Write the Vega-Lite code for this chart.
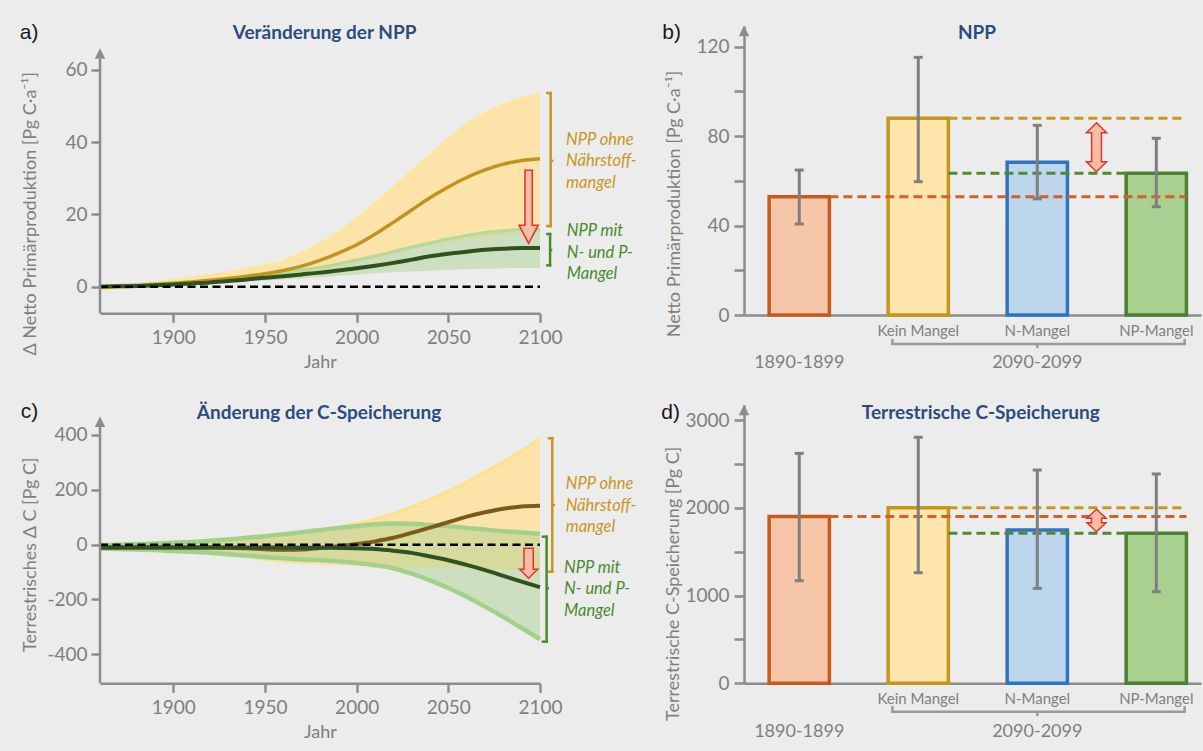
{
"$schema": "https://vega.github.io/schema/vega-lite/v6.json",
"background": "#ececec",
"padding": {"left": 19, "top": 21, "right": 10, "bottom": 15},
"columns": 2,
"spacing": {"row": 90, "column": 204},
"bounds": "flush",
"datasets": {
"npp": [
{"Jahr":1860,"ohne_lo":-1.2,"ohne_hi":0,"ohne":0,"mit_lo":-0.3,"mit_hi":0.2,"mit":0},
{"Jahr":1870,"ohne_lo":-0.8,"ohne_hi":0.3,"ohne":0.1,"mit_lo":-0.2,"mit_hi":0.4,"mit":0.1},
{"Jahr":1880,"ohne_lo":-0.3,"ohne_hi":0.7,"ohne":0.3,"mit_lo":0,"mit_hi":0.6,"mit":0.2},
{"Jahr":1890,"ohne_lo":0.1,"ohne_hi":1.2,"ohne":0.6,"mit_lo":0.2,"mit_hi":0.85,"mit":0.4},
{"Jahr":1900,"ohne_lo":0.4,"ohne_hi":1.8,"ohne":0.9,"mit_lo":0.4,"mit_hi":1.1,"mit":0.6},
{"Jahr":1910,"ohne_lo":0.7,"ohne_hi":2.4,"ohne":1.3,"mit_lo":0.6,"mit_hi":1.4,"mit":0.9},
{"Jahr":1920,"ohne_lo":1.0,"ohne_hi":3.1,"ohne":1.8,"mit_lo":0.8,"mit_hi":1.7,"mit":1.2},
{"Jahr":1930,"ohne_lo":1.4,"ohne_hi":3.9,"ohne":2.3,"mit_lo":1.1,"mit_hi":2.1,"mit":1.6},
{"Jahr":1940,"ohne_lo":1.8,"ohne_hi":4.8,"ohne":2.9,"mit_lo":1.4,"mit_hi":2.6,"mit":2.0},
{"Jahr":1950,"ohne_lo":2.3,"ohne_hi":5.8,"ohne":3.6,"mit_lo":1.7,"mit_hi":3.2,"mit":2.5},
{"Jahr":1960,"ohne_lo":2.9,"ohne_hi":7.0,"ohne":4.5,"mit_lo":2.0,"mit_hi":4.0,"mit":2.9},
{"Jahr":1970,"ohne_lo":3.6,"ohne_hi":9.2,"ohne":5.7,"mit_lo":2.3,"mit_hi":4.7,"mit":3.4},
{"Jahr":1980,"ohne_lo":4.5,"ohne_hi":11.8,"ohne":7.3,"mit_lo":2.6,"mit_hi":5.3,"mit":3.9},
{"Jahr":1990,"ohne_lo":5.5,"ohne_hi":15.0,"ohne":9.3,"mit_lo":3.0,"mit_hi":6.3,"mit":4.5},
{"Jahr":2000,"ohne_lo":6.6,"ohne_hi":18.6,"ohne":11.6,"mit_lo":3.3,"mit_hi":7.4,"mit":5.1},
{"Jahr":2010,"ohne_lo":7.8,"ohne_hi":22.8,"ohne":14.5,"mit_lo":3.7,"mit_hi":8.5,"mit":5.8},
{"Jahr":2020,"ohne_lo":9.0,"ohne_hi":27.3,"ohne":17.8,"mit_lo":4.0,"mit_hi":9.7,"mit":6.6},
{"Jahr":2030,"ohne_lo":10.2,"ohne_hi":31.8,"ohne":21.2,"mit_lo":4.2,"mit_hi":11.0,"mit":7.5},
{"Jahr":2040,"ohne_lo":11.3,"ohne_hi":36.3,"ohne":24.6,"mit_lo":4.4,"mit_hi":12.1,"mit":8.4},
{"Jahr":2050,"ohne_lo":12.3,"ohne_hi":40.8,"ohne":27.6,"mit_lo":4.6,"mit_hi":13.2,"mit":9.1},
{"Jahr":2060,"ohne_lo":13.1,"ohne_hi":44.7,"ohne":30.2,"mit_lo":4.8,"mit_hi":14.2,"mit":9.7},
{"Jahr":2070,"ohne_lo":13.8,"ohne_hi":47.8,"ohne":32.3,"mit_lo":5.0,"mit_hi":15.0,"mit":10.2},
{"Jahr":2080,"ohne_lo":14.4,"ohne_hi":50.2,"ohne":33.9,"mit_lo":5.1,"mit_hi":15.5,"mit":10.5},
{"Jahr":2090,"ohne_lo":14.8,"ohne_hi":51.9,"ohne":34.9,"mit_lo":5.2,"mit_hi":15.8,"mit":10.7},
{"Jahr":2100,"ohne_lo":15.0,"ohne_hi":53.0,"ohne":35.4,"mit_lo":5.2,"mit_hi":15.8,"mit":10.7}
],
"cspeicher": [
{"Jahr":1860,"ohne_lo":-14,"ohne_hi":-2,"ohne":-10,"mit_lo":-14,"mit_hi":-2,"mit":-10},
{"Jahr":1870,"ohne_lo":-15,"ohne_hi":-1,"ohne":-10,"mit_lo":-16,"mit_hi":0,"mit":-10},
{"Jahr":1880,"ohne_lo":-17,"ohne_hi":0,"ohne":-10,"mit_lo":-18,"mit_hi":2,"mit":-10},
{"Jahr":1890,"ohne_lo":-19,"ohne_hi":2,"ohne":-10,"mit_lo":-20,"mit_hi":4,"mit":-10},
{"Jahr":1900,"ohne_lo":-22,"ohne_hi":4,"ohne":-10,"mit_lo":-23,"mit_hi":7,"mit":-10},
{"Jahr":1910,"ohne_lo":-26,"ohne_hi":7,"ohne":-10,"mit_lo":-26,"mit_hi":10,"mit":-10},
{"Jahr":1920,"ohne_lo":-31,"ohne_hi":11,"ohne":-10,"mit_lo":-30,"mit_hi":14,"mit":-10},
{"Jahr":1930,"ohne_lo":-37,"ohne_hi":16,"ohne":-11,"mit_lo":-35,"mit_hi":19,"mit":-10},
{"Jahr":1940,"ohne_lo":-45,"ohne_hi":22,"ohne":-13,"mit_lo":-40,"mit_hi":25,"mit":-10},
{"Jahr":1950,"ohne_lo":-55,"ohne_hi":30,"ohne":-17,"mit_lo":-45,"mit_hi":31,"mit":-10},
{"Jahr":1960,"ohne_lo":-62,"ohne_hi":37,"ohne":-19,"mit_lo":-50,"mit_hi":38,"mit":-10},
{"Jahr":1970,"ohne_lo":-66,"ohne_hi":45,"ohne":-18,"mit_lo":-54,"mit_hi":45,"mit":-11},
{"Jahr":1980,"ohne_lo":-69,"ohne_hi":54,"ohne":-12,"mit_lo":-57,"mit_hi":53,"mit":-11},
{"Jahr":1990,"ohne_lo":-71,"ohne_hi":64,"ohne":-6,"mit_lo":-61,"mit_hi":61,"mit":-12},
{"Jahr":2000,"ohne_lo":-73,"ohne_hi":77,"ohne":2,"mit_lo":-67,"mit_hi":68,"mit":-13},
{"Jahr":2010,"ohne_lo":-75,"ohne_hi":93,"ohne":12,"mit_lo":-75,"mit_hi":74,"mit":-16},
{"Jahr":2020,"ohne_lo":-76,"ohne_hi":113,"ohne":25,"mit_lo":-86,"mit_hi":77,"mit":-22},
{"Jahr":2030,"ohne_lo":-77,"ohne_hi":138,"ohne":43,"mit_lo":-106,"mit_hi":76,"mit":-30},
{"Jahr":2040,"ohne_lo":-78,"ohne_hi":165,"ohne":62,"mit_lo":-130,"mit_hi":72,"mit":-43},
{"Jahr":2050,"ohne_lo":-79,"ohne_hi":195,"ohne":82,"mit_lo":-158,"mit_hi":67,"mit":-57},
{"Jahr":2060,"ohne_lo":-81,"ohne_hi":228,"ohne":102,"mit_lo":-190,"mit_hi":61,"mit":-74},
{"Jahr":2070,"ohne_lo":-83,"ohne_hi":265,"ohne":118,"mit_lo":-226,"mit_hi":55,"mit":-93},
{"Jahr":2080,"ohne_lo":-86,"ohne_hi":302,"ohne":131,"mit_lo":-264,"mit_hi":49,"mit":-114},
{"Jahr":2090,"ohne_lo":-89,"ohne_hi":342,"ohne":139,"mit_lo":-304,"mit_hi":44,"mit":-135},
{"Jahr":2100,"ohne_lo":-92,"ohne_hi":385,"ohne":142,"mit_lo":-345,"mit_hi":40,"mit":-155}
],
"balken": [
{"Kategorie":"1890-1899","npp":52.9,"npp_lo":40.7,"npp_hi":64.8,"c":1900,"c_lo":1169,"c_hi":2620},
{"Kategorie":"Kein Mangel","npp":88,"npp_lo":59.6,"npp_hi":115.2,"c":2001,"c_lo":1260,"c_hi":2803},
{"Kategorie":"N-Mangel","npp":68.3,"npp_lo":51.9,"npp_hi":84.8,"c":1747,"c_lo":1082,"c_hi":2430},
{"Kategorie":"NP-Mangel","npp":63.4,"npp_lo":48.4,"npp_hi":79,"c":1709,"c_lo":1044,"c_hi":2385}
]
},
"concat": [
{
"width": 440, "height": 287.3,
"data": {"name": "npp"},
"layer": [
{"mark": {"type": "area", "color": "#fbe3aa", "interpolate": "monotone"}, "encoding": {"x": {"field": "Jahr", "type": "quantitative", "scale": {"domain": [1860, 2100], "nice": false, "zero": false}, "axis": {"title": "Jahr", "values": [1900,1950,2000,2050,2100], "labelExpr": "'' + datum.value", "tickSize": 9, "labelPadding": 6, "titlePadding": 6}}, "y": {"field": "ohne_lo", "type": "quantitative", "scale": {"domain": [-7.35, 72.1], "nice": false, "zero": false}, "axis": {"title": "Δ Netto Primärproduktion [Pg C·a⁻¹]", "values": [0,20,40,60], "domain": false, "tickSize": 9, "labelPadding": 4, "titleX": -70, "titleY": 187.3, "titleBaseline": "middle", "titleAngle": 270}}, "y2": {"field": "ohne_hi"}}},
{"mark": {"type": "line", "color": "#fde699", "strokeWidth": 3, "interpolate": "monotone"}, "encoding": {"x": {"field": "Jahr", "type": "quantitative"}, "y": {"field": "ohne_hi", "type": "quantitative"}}},
{"mark": {"type": "area", "color": "#a9d18e", "opacity": 0.45, "interpolate": "monotone"}, "encoding": {"x": {"field": "Jahr", "type": "quantitative"}, "y": {"field": "mit_lo", "type": "quantitative"}, "y2": {"field": "mit_hi"}}},
{"mark": {"type": "line", "color": "#b3d99b", "strokeWidth": 3, "interpolate": "monotone"}, "encoding": {"x": {"field": "Jahr", "type": "quantitative"}, "y": {"field": "mit_hi", "type": "quantitative"}}},
{"mark": {"type": "line", "color": "#c0951f", "strokeWidth": 3.5, "interpolate": "monotone"}, "encoding": {"x": {"field": "Jahr", "type": "quantitative"}, "y": {"field": "ohne", "type": "quantitative"}}},
{"mark": {"type": "line", "color": "#2f5220", "strokeWidth": 4, "interpolate": "monotone"}, "encoding": {"x": {"field": "Jahr", "type": "quantitative"}, "y": {"field": "mit", "type": "quantitative"}}},
{"data": {"values": [{}]}, "mark": {"type": "rule", "color": "#000000", "strokeWidth": 2.5, "strokeDash": [8, 4.5]}, "encoding": {"x": {"datum": 1860}, "x2": {"datum": 2100}, "y": {"datum": 0}}},
{"data": {"values": [{}]}, "mark": {"type": "point", "shape": "M-0.1,-1L0.1,-1L0.1,0.5L0.264,0.5L0,1L-0.264,0.5L-0.1,0.5Z", "size": 5373, "filled": true, "fill": "#f7bca6", "stroke": "#e3342a", "strokeWidth": 1.5, "opacity": 1}, "encoding": {"x": {"datum": 2093.8}, "y": {"datum": 22.1}}},
{"data": {"values": [{}]}, "mark": {"type": "rule", "color": "#8c8c8c", "strokeWidth": 2.5}, "encoding": {"x": {"datum": 1860}, "y": {"datum": -7.35}, "y2": {"datum": 63}}},
{"data": {"values": [{}]}, "mark": {"type": "point", "shape": "M0,-1L1,1L-1,1Z", "size": 110, "filled": true, "color": "#8c8c8c", "opacity": 1}, "encoding": {"x": {"datum": 1860}, "y": {"datum": 64.5}}},
{"data": {"values": [{}]}, "mark": {"type": "rule", "color": "#c8961e", "strokeWidth": 2.5, "strokeCap": "square"}, "encoding": {"x": {"datum": 2105.8}, "y": {"datum": 16.78}, "y2": {"datum": 53.55}}},
{"data": {"values": [{}]}, "mark": {"type": "rule", "color": "#c8961e", "strokeWidth": 2.5, "strokeCap": "square"}, "encoding": {"x": {"datum": 2104}, "x2": {"datum": 2105.8}, "y": {"datum": 53.55}}},
{"data": {"values": [{}]}, "mark": {"type": "rule", "color": "#c8961e", "strokeWidth": 2.5, "strokeCap": "square"}, "encoding": {"x": {"datum": 2104}, "x2": {"datum": 2105.8}, "y": {"datum": 16.78}}},
{"data": {"values": [{}]}, "mark": {"type": "rule", "color": "#c8961e", "strokeWidth": 2.5}, "encoding": {"x": {"datum": 2105.8}, "x2": {"datum": 2107.3}, "y": {"datum": 34.8}}},
{"data": {"values": [{}]}, "mark": {"type": "rule", "color": "#4a8a2e", "strokeWidth": 2.5, "strokeCap": "square"}, "encoding": {"x": {"datum": 2105.5}, "y": {"datum": 5.92}, "y2": {"datum": 14.57}}},
{"data": {"values": [{}]}, "mark": {"type": "rule", "color": "#4a8a2e", "strokeWidth": 2.5, "strokeCap": "square"}, "encoding": {"x": {"datum": 2104}, "x2": {"datum": 2105.5}, "y": {"datum": 14.57}}},
{"data": {"values": [{}]}, "mark": {"type": "rule", "color": "#4a8a2e", "strokeWidth": 2.5, "strokeCap": "square"}, "encoding": {"x": {"datum": 2104}, "x2": {"datum": 2105.5}, "y": {"datum": 5.92}}},
{"data": {"values": [{}]}, "mark": {"type": "rule", "color": "#4a8a2e", "strokeWidth": 2.5}, "encoding": {"x": {"datum": 2105.5}, "x2": {"datum": 2106.7}, "y": {"datum": 10.15}}},
{"data": {"values": [{"t": "NPP ohne\nNährstoff-\nmangel"}]}, "mark": {"type": "text", "align": "left", "baseline": "top", "fontStyle": "italic", "fontSize": 16.5, "lineHeight": 21.5, "lineBreak": "\n", "color": "#c8961e"}, "encoding": {"x": {"datum": 2114.2}, "y": {"datum": 42.9}, "text": {"field": "t"}}},
{"data": {"values": [{"t": "NPP mit\nN- und P-\nMangel"}]}, "mark": {"type": "text", "align": "left", "baseline": "top", "fontStyle": "italic", "fontSize": 16.5, "lineHeight": 21.5, "lineBreak": "\n", "color": "#4a8a2e"}, "encoding": {"x": {"datum": 2114.6}, "y": {"datum": 17.6}, "text": {"field": "t"}}},
{"data": {"values": [{"t": "Veränderung der NPP"}]}, "mark": {"type": "text", "fontSize": 19, "fontWeight": "bold", "color": "#2c4c7e", "align": "center", "baseline": "middle"}, "encoding": {"x": {"datum": 1982.5}, "y": {"datum": 70.1}, "text": {"field": "t"}}},
{"data": {"values": [{"t": "a)"}]}, "mark": {"type": "text", "font": "Liberation Sans", "fontSize": 21, "color": "#1a1a1a", "align": "center", "baseline": "middle"}, "encoding": {"x": {"datum": 1821.3}, "y": {"datum": 70.1}, "text": {"field": "t"}}}
]
},
{
"width": 457, "height": 289,
"data": {"name": "balken"},
"layer": [
{"mark": {"type": "bar", "strokeWidth": 3.5}, "encoding": {"x": {"field": "Kategorie", "type": "nominal", "scale": {"domain": ["1890-1899","Kein Mangel","N-Mangel","NP-Mangel"], "paddingInner": 0.4937, "paddingOuter": 0.1667, "align": 0.633}, "axis": {"title": null, "ticks": false, "labelAngle": 0, "labelFontSize": 15, "labelPadding": 8, "labelExpr": "datum.value == '1890-1899' ? '' : datum.label"}}, "y": {"field": "npp", "type": "quantitative", "scale": {"domain": [0, 129.2], "nice": false}, "axis": {"title": "Netto Primärproduktion [Pg C·a⁻¹]", "values": [0,20,40,60,80,100,120], "labelExpr": "datum.value % 40 == 0 ? datum.label : ''", "tickSize": 10, "labelPadding": 5, "titleX": -70, "titleY": 177.5, "titleBaseline": "middle", "titleAngle": 270}}, "fill": {"field": "Kategorie", "type": "nominal", "scale": {"domain": ["1890-1899","Kein Mangel","N-Mangel","NP-Mangel"], "range": ["#f6c6a8","#fde5ab","#bdd6ee","#a9d08e"]}, "legend": null}, "stroke": {"field": "Kategorie", "type": "nominal", "scale": {"domain": ["1890-1899","Kein Mangel","N-Mangel","NP-Mangel"], "range": ["#c65a1e","#c3961f","#2f74c0","#4e8034"]}, "legend": null}}},
{"transform": [{"filter": "datum.Kategorie == '1890-1899'"}], "mark": {"type": "rule", "color": "#d2602a", "strokeWidth": 3, "strokeDash": [9, 5]}, "encoding": {"x": {"datum": "1890-1899", "bandPosition": 1}, "x2": {"datum": "NP-Mangel", "bandPosition": 1}, "y": {"field": "npp", "type": "quantitative"}}},
{"transform": [{"filter": "datum.Kategorie == 'Kein Mangel'"}], "mark": {"type": "rule", "color": "#c8981e", "strokeWidth": 3, "strokeDash": [9, 5]}, "encoding": {"x": {"datum": "Kein Mangel", "bandPosition": 1}, "x2": {"datum": "NP-Mangel", "bandPosition": 1}, "y": {"field": "npp", "type": "quantitative"}}},
{"transform": [{"filter": "datum.Kategorie == 'NP-Mangel'"}], "mark": {"type": "rule", "color": "#4f8a2f", "strokeWidth": 3, "strokeDash": [9, 5]}, "encoding": {"x": {"datum": "Kein Mangel", "bandPosition": 1}, "x2": {"datum": "NP-Mangel", "bandPosition": 0}, "y": {"field": "npp", "type": "quantitative"}}},
{"mark": {"type": "rule", "color": "#7f7f7f", "strokeWidth": 3}, "encoding": {"x": {"field": "Kategorie", "type": "nominal"}, "y": {"field": "npp_lo", "type": "quantitative"}, "y2": {"field": "npp_hi"}}},
{"mark": {"type": "tick", "color": "#7f7f7f", "thickness": 3, "size": 9, "orient": "horizontal", "opacity": 1}, "encoding": {"x": {"field": "Kategorie", "type": "nominal"}, "y": {"field": "npp_lo", "type": "quantitative"}}},
{"mark": {"type": "tick", "color": "#7f7f7f", "thickness": 3, "size": 9, "orient": "horizontal", "opacity": 1}, "encoding": {"x": {"field": "Kategorie", "type": "nominal"}, "y": {"field": "npp_hi", "type": "quantitative"}}},
{"data": {"values": [{}]}, "mark": {"type": "point", "shape": "M0,-1L0.41,-0.59L0.2,-0.59L0.2,0.59L0.41,0.59L0,1L-0.41,0.59L-0.2,0.59L-0.2,-0.59L-0.41,-0.59Z", "size": 2401, "filled": true, "fill": "#f7bca6", "stroke": "#e3342a", "strokeWidth": 1.5, "opacity": 1}, "encoding": {"x": {"datum": "N-Mangel", "bandPosition": 1.483}, "y": {"datum": 75}}},
{"data": {"values": [{}]}, "mark": {"type": "point", "shape": "M0,-1L1,1L-1,1Z", "size": 110, "filled": true, "color": "#8c8c8c", "opacity": 1}, "encoding": {"x": {"datum": "1890-1899", "bandPosition": -0.417}, "y": {"datum": 127}}},
{"data": {"values": [{}]}, "mark": {"type": "rule", "color": "#9a9a9a", "strokeWidth": 2.5, "strokeCap": "square"}, "encoding": {"x": {"datum": "Kein Mangel", "bandPosition": 0.07}, "x2": {"datum": "NP-Mangel", "bandPosition": 0.97}, "y": {"datum": -13}}},
{"data": {"values": [{}]}, "mark": {"type": "rule", "color": "#9a9a9a", "strokeWidth": 2.5}, "encoding": {"x": {"datum": "Kein Mangel", "bandPosition": 0.07}, "y": {"datum": -13}, "y2": {"datum": -10.7}}},
{"data": {"values": [{}]}, "mark": {"type": "rule", "color": "#9a9a9a", "strokeWidth": 2.5}, "encoding": {"x": {"datum": "NP-Mangel", "bandPosition": 0.97}, "y": {"datum": -13}, "y2": {"datum": -10.7}}},
{"data": {"values": [{}]}, "mark": {"type": "rule", "color": "#9a9a9a", "strokeWidth": 2.5}, "encoding": {"x": {"datum": "N-Mangel"}, "y": {"datum": -13}, "y2": {"datum": -14.8}}},
{"data": {"values": [{"t": "1890-1899"}]}, "mark": {"type": "text", "fontSize": 18, "color": "#7f7f7f", "baseline": "middle", "dy": 47.7}, "encoding": {"x": {"datum": "1890-1899"}, "y": {"datum": 0}, "text": {"field": "t"}}},
{"data": {"values": [{"t": "2090-2099"}]}, "mark": {"type": "text", "fontSize": 18, "color": "#7f7f7f", "baseline": "middle", "dy": 47.7}, "encoding": {"x": {"datum": "N-Mangel"}, "y": {"datum": 0}, "text": {"field": "t"}}},
{"data": {"values": [{"t": "NPP"}]}, "mark": {"type": "text", "fontSize": 19, "fontWeight": "bold", "color": "#2c4c7e", "align": "center", "baseline": "middle"}, "encoding": {"x": {"datum": "N-Mangel", "bandPosition": -0.5}, "y": {"datum": 126.1}, "text": {"field": "t"}}},
{"data": {"values": [{"t": "b)"}]}, "mark": {"type": "text", "font": "Liberation Sans", "fontSize": 21, "color": "#1a1a1a", "align": "center", "baseline": "middle"}, "encoding": {"x": {"datum": "1890-1899", "bandPosition": -1.617}, "y": {"datum": 126.1}, "text": {"field": "t"}}}
]
},
{
"width": 440, "height": 278.3,
"data": {"name": "cspeicher"},
"layer": [
{"mark": {"type": "area", "color": "#fbe3aa", "interpolate": "monotone"}, "encoding": {"x": {"field": "Jahr", "type": "quantitative", "scale": {"domain": [1860, 2100], "nice": false, "zero": false}, "axis": {"title": "Jahr", "values": [1900,1950,2000,2050,2100], "labelExpr": "'' + datum.value", "tickSize": 9, "labelPadding": 6, "titlePadding": 6}}, "y": {"field": "ohne_lo", "type": "quantitative", "scale": {"domain": [-505.8, 509.4], "nice": false, "zero": false}, "axis": {"title": "Terrestrisches Δ C [Pg C]", "values": [-400,-200,0,200,400], "labelExpr": "'' + datum.value", "domain": false, "tickSize": 9, "labelPadding": 4, "titleX": -70, "titleY": 149.2, "titleBaseline": "middle", "titleAngle": 270}}, "y2": {"field": "ohne_hi"}}},
{"mark": {"type": "line", "color": "#fde28a", "strokeWidth": 3, "interpolate": "monotone"}, "encoding": {"x": {"field": "Jahr", "type": "quantitative"}, "y": {"field": "ohne_hi", "type": "quantitative"}}},
{"mark": {"type": "line", "color": "#f9e3a3", "strokeWidth": 2.5, "interpolate": "monotone"}, "encoding": {"x": {"field": "Jahr", "type": "quantitative"}, "y": {"field": "ohne_lo", "type": "quantitative"}}},
{"mark": {"type": "area", "color": "#a9d18e", "opacity": 0.45, "interpolate": "monotone"}, "encoding": {"x": {"field": "Jahr", "type": "quantitative"}, "y": {"field": "mit_lo", "type": "quantitative"}, "y2": {"field": "mit_hi"}}},
{"mark": {"type": "line", "color": "#a5d08a", "strokeWidth": 4.5, "interpolate": "monotone"}, "encoding": {"x": {"field": "Jahr", "type": "quantitative"}, "y": {"field": "mit_hi", "type": "quantitative"}}},
{"mark": {"type": "line", "color": "#a5d08a", "strokeWidth": 4.5, "interpolate": "monotone"}, "encoding": {"x": {"field": "Jahr", "type": "quantitative"}, "y": {"field": "mit_lo", "type": "quantitative"}}},
{"mark": {"type": "line", "color": "#7b5a1c", "strokeWidth": 4, "interpolate": "monotone"}, "encoding": {"x": {"field": "Jahr", "type": "quantitative"}, "y": {"field": "ohne", "type": "quantitative"}}},
{"mark": {"type": "line", "color": "#2f5220", "strokeWidth": 4, "interpolate": "monotone"}, "encoding": {"x": {"field": "Jahr", "type": "quantitative"}, "y": {"field": "mit", "type": "quantitative"}}},
{"data": {"values": [{}]}, "mark": {"type": "rule", "color": "#000000", "strokeWidth": 2.5, "strokeDash": [8, 4.5]}, "encoding": {"x": {"datum": 1860}, "x2": {"datum": 2100}, "y": {"datum": 0}}},
{"data": {"values": [{}]}, "mark": {"type": "point", "shape": "M-0.31,-1L0.31,-1L0.31,0.4L0.6,0.4L0,1L-0.6,0.4L-0.31,0.4Z", "size": 900, "filled": true, "fill": "#f7bca6", "stroke": "#e3342a", "strokeWidth": 1.5, "opacity": 1}, "encoding": {"x": {"datum": 2093.8}, "y": {"datum": -68}}},
{"data": {"values": [{}]}, "mark": {"type": "rule", "color": "#8c8c8c", "strokeWidth": 2.5}, "encoding": {"x": {"datum": 1860}, "y": {"datum": -505.8}, "y2": {"datum": 430}}},
{"data": {"values": [{}]}, "mark": {"type": "point", "shape": "M0,-1L1,1L-1,1Z", "size": 110, "filled": true, "color": "#8c8c8c", "opacity": 1}, "encoding": {"x": {"datum": 1860}, "y": {"datum": 448.5}}},
{"data": {"values": [{}]}, "mark": {"type": "rule", "color": "#c8961e", "strokeWidth": 2.5, "strokeCap": "square"}, "encoding": {"x": {"datum": 2106.7}, "y": {"datum": -98.7}, "y2": {"datum": 388}}},
{"data": {"values": [{}]}, "mark": {"type": "rule", "color": "#c8961e", "strokeWidth": 2.5, "strokeCap": "square"}, "encoding": {"x": {"datum": 2104.9}, "x2": {"datum": 2106.7}, "y": {"datum": 388}}},
{"data": {"values": [{}]}, "mark": {"type": "rule", "color": "#c8961e", "strokeWidth": 2.5, "strokeCap": "square"}, "encoding": {"x": {"datum": 2104.9}, "x2": {"datum": 2106.7}, "y": {"datum": -98.7}}},
{"data": {"values": [{}]}, "mark": {"type": "rule", "color": "#c8961e", "strokeWidth": 2.5}, "encoding": {"x": {"datum": 2106.7}, "x2": {"datum": 2108.2}, "y": {"datum": 144.6}}},
{"data": {"values": [{}]}, "mark": {"type": "rule", "color": "#4a8a2e", "strokeWidth": 2.5, "strokeCap": "square"}, "encoding": {"x": {"datum": 2103.6}, "y": {"datum": -354}, "y2": {"datum": 29}}},
{"data": {"values": [{}]}, "mark": {"type": "rule", "color": "#4a8a2e", "strokeWidth": 2.5, "strokeCap": "square"}, "encoding": {"x": {"datum": 2101.6}, "x2": {"datum": 2103.6}, "y": {"datum": 29}}},
{"data": {"values": [{}]}, "mark": {"type": "rule", "color": "#4a8a2e", "strokeWidth": 2.5, "strokeCap": "square"}, "encoding": {"x": {"datum": 2101.6}, "x2": {"datum": 2103.6}, "y": {"datum": -354}}},
{"data": {"values": [{}]}, "mark": {"type": "rule", "color": "#4a8a2e", "strokeWidth": 2.5}, "encoding": {"x": {"datum": 2103.6}, "x2": {"datum": 2104.9}, "y": {"datum": -159}}},
{"data": {"values": [{"t": "NPP ohne\nNährstoff-\nmangel"}]}, "mark": {"type": "text", "align": "left", "baseline": "top", "fontStyle": "italic", "fontSize": 16.5, "lineHeight": 21.5, "lineBreak": "\n", "color": "#c8961e"}, "encoding": {"x": {"datum": 2114}, "y": {"datum": 249}, "text": {"field": "t"}}},
{"data": {"values": [{"t": "NPP mit\nN- und P-\nMangel"}]}, "mark": {"type": "text", "align": "left", "baseline": "top", "fontStyle": "italic", "fontSize": 16.5, "lineHeight": 21.5, "lineBreak": "\n", "color": "#4a8a2e"}, "encoding": {"x": {"datum": 2113.1}, "y": {"datum": -55.3}, "text": {"field": "t"}}},
{"data": {"values": [{"t": "Änderung der C-Speicherung"}]}, "mark": {"type": "text", "fontSize": 19, "fontWeight": "bold", "color": "#2c4c7e", "align": "center", "baseline": "middle"}, "encoding": {"x": {"datum": 1979.5}, "y": {"datum": 480}, "text": {"field": "t"}}},
{"data": {"values": [{"t": "c)"}]}, "mark": {"type": "text", "font": "Liberation Sans", "fontSize": 21, "color": "#1a1a1a", "align": "center", "baseline": "middle"}, "encoding": {"x": {"datum": 1821.5}, "y": {"datum": 485}, "text": {"field": "t"}}}
]
},
{
"width": 457, "height": 278.3,
"data": {"name": "balken"},
"layer": [
{"mark": {"type": "bar", "strokeWidth": 3.5}, "encoding": {"x": {"field": "Kategorie", "type": "nominal", "scale": {"domain": ["1890-1899","Kein Mangel","N-Mangel","NP-Mangel"], "paddingInner": 0.4937, "paddingOuter": 0.1667, "align": 0.633}, "axis": {"title": null, "ticks": false, "labelAngle": 0, "labelFontSize": 15, "labelPadding": 8, "labelExpr": "datum.value == '1890-1899' ? '' : datum.label"}}, "y": {"field": "c", "type": "quantitative", "scale": {"domain": [0, 3171], "nice": false}, "axis": {"title": "Terrestrische C-Speicherung [Pg C]", "values": [0,500,1000,1500,2000,2500,3000], "labelExpr": "datum.value % 1000 == 0 ? '' + datum.value : ''", "tickSize": 10, "labelPadding": 5, "titleX": -71, "titleY": 178.3, "titleBaseline": "middle", "titleAngle": 270}}, "fill": {"field": "Kategorie", "type": "nominal", "scale": {"domain": ["1890-1899","Kein Mangel","N-Mangel","NP-Mangel"], "range": ["#f6c6a8","#fde5ab","#bdd6ee","#a9d08e"]}, "legend": null}, "stroke": {"field": "Kategorie", "type": "nominal", "scale": {"domain": ["1890-1899","Kein Mangel","N-Mangel","NP-Mangel"], "range": ["#c65a1e","#c3961f","#2f74c0","#4e8034"]}, "legend": null}}},
{"transform": [{"filter": "datum.Kategorie == '1890-1899'"}], "mark": {"type": "rule", "color": "#d2602a", "strokeWidth": 3, "strokeDash": [9, 5]}, "encoding": {"x": {"datum": "1890-1899", "bandPosition": 1}, "x2": {"datum": "NP-Mangel", "bandPosition": 1}, "y": {"field": "c", "type": "quantitative"}}},
{"transform": [{"filter": "datum.Kategorie == 'Kein Mangel'"}], "mark": {"type": "rule", "color": "#c8981e", "strokeWidth": 3, "strokeDash": [9, 5]}, "encoding": {"x": {"datum": "Kein Mangel", "bandPosition": 1}, "x2": {"datum": "NP-Mangel", "bandPosition": 1}, "y": {"field": "c", "type": "quantitative"}}},
{"transform": [{"filter": "datum.Kategorie == 'NP-Mangel'"}], "mark": {"type": "rule", "color": "#4f8a2f", "strokeWidth": 3, "strokeDash": [9, 5]}, "encoding": {"x": {"datum": "Kein Mangel", "bandPosition": 1}, "x2": {"datum": "NP-Mangel", "bandPosition": 0}, "y": {"field": "c", "type": "quantitative"}}},
{"mark": {"type": "rule", "color": "#7f7f7f", "strokeWidth": 3}, "encoding": {"x": {"field": "Kategorie", "type": "nominal"}, "y": {"field": "c_lo", "type": "quantitative"}, "y2": {"field": "c_hi"}}},
{"mark": {"type": "tick", "color": "#7f7f7f", "thickness": 3, "size": 9, "orient": "horizontal", "opacity": 1}, "encoding": {"x": {"field": "Kategorie", "type": "nominal"}, "y": {"field": "c_lo", "type": "quantitative"}}},
{"mark": {"type": "tick", "color": "#7f7f7f", "thickness": 3, "size": 9, "orient": "horizontal", "opacity": 1}, "encoding": {"x": {"field": "Kategorie", "type": "nominal"}, "y": {"field": "c_hi", "type": "quantitative"}}},
{"data": {"values": [{}]}, "mark": {"type": "point", "shape": "M0,-1L0.85,-0.2L0.45,-0.2L0.45,0.2L0.85,0.2L0,1L-0.85,0.2L-0.45,0.2L-0.45,-0.2L-0.85,-0.2Z", "size": 502, "filled": true, "fill": "#f7bca6", "stroke": "#e3342a", "strokeWidth": 1.5, "opacity": 1}, "encoding": {"x": {"datum": "N-Mangel", "bandPosition": 1.483}, "y": {"datum": 1855}}},
{"data": {"values": [{}]}, "mark": {"type": "point", "shape": "M0,-1L1,1L-1,1Z", "size": 110, "filled": true, "color": "#8c8c8c", "opacity": 1}, "encoding": {"x": {"datum": "1890-1899", "bandPosition": -0.417}, "y": {"datum": 3114}}},
{"data": {"values": [{}]}, "mark": {"type": "rule", "color": "#9a9a9a", "strokeWidth": 2.5, "strokeCap": "square"}, "encoding": {"x": {"datum": "Kein Mangel", "bandPosition": 0.07}, "x2": {"datum": "NP-Mangel", "bandPosition": 0.97}, "y": {"datum": -323}}},
{"data": {"values": [{}]}, "mark": {"type": "rule", "color": "#9a9a9a", "strokeWidth": 2.5}, "encoding": {"x": {"datum": "Kein Mangel", "bandPosition": 0.07}, "y": {"datum": -323}, "y2": {"datum": -259}}},
{"data": {"values": [{}]}, "mark": {"type": "rule", "color": "#9a9a9a", "strokeWidth": 2.5}, "encoding": {"x": {"datum": "NP-Mangel", "bandPosition": 0.97}, "y": {"datum": -323}, "y2": {"datum": -259}}},
{"data": {"values": [{}]}, "mark": {"type": "rule", "color": "#9a9a9a", "strokeWidth": 2.5}, "encoding": {"x": {"datum": "N-Mangel"}, "y": {"datum": -323}, "y2": {"datum": -373}}},
{"data": {"values": [{"t": "1890-1899"}]}, "mark": {"type": "text", "fontSize": 18, "color": "#7f7f7f", "baseline": "middle", "dy": 48.4}, "encoding": {"x": {"datum": "1890-1899"}, "y": {"datum": 0}, "text": {"field": "t"}}},
{"data": {"values": [{"t": "2090-2099"}]}, "mark": {"type": "text", "fontSize": 18, "color": "#7f7f7f", "baseline": "middle", "dy": 48.4}, "encoding": {"x": {"datum": "N-Mangel"}, "y": {"datum": 0}, "text": {"field": "t"}}},
{"data": {"values": [{"t": "Terrestrische C-Speicherung"}]}, "mark": {"type": "text", "fontSize": 19, "fontWeight": "bold", "color": "#2c4c7e", "align": "center", "baseline": "middle"}, "encoding": {"x": {"datum": "N-Mangel", "bandPosition": -0.438}, "y": {"datum": 3076}, "text": {"field": "t"}}},
{"data": {"values": [{"t": "d)"}]}, "mark": {"type": "text", "font": "Liberation Sans", "fontSize": 21, "color": "#1a1a1a", "align": "center", "baseline": "middle"}, "encoding": {"x": {"datum": "1890-1899", "bandPosition": -1.633}, "y": {"datum": 3080}, "text": {"field": "t"}}}
]
}
],
"config": {
"font": "Lato",
"view": {"stroke": null},
"axis": {"grid": false, "domainColor": "#8c8c8c", "domainWidth": 2.5, "tickColor": "#8c8c8c", "tickWidth": 2.5, "labelColor": "#7f7f7f", "labelFontSize": 19, "labelFont": "Lato", "titleFont": "Lato", "titleColor": "#7f7f7f", "titleFontSize": 18, "titleFontWeight": "normal", "labelOverlap": false, "labelFlush": false},
"text": {"font": "Lato"}
}
}
